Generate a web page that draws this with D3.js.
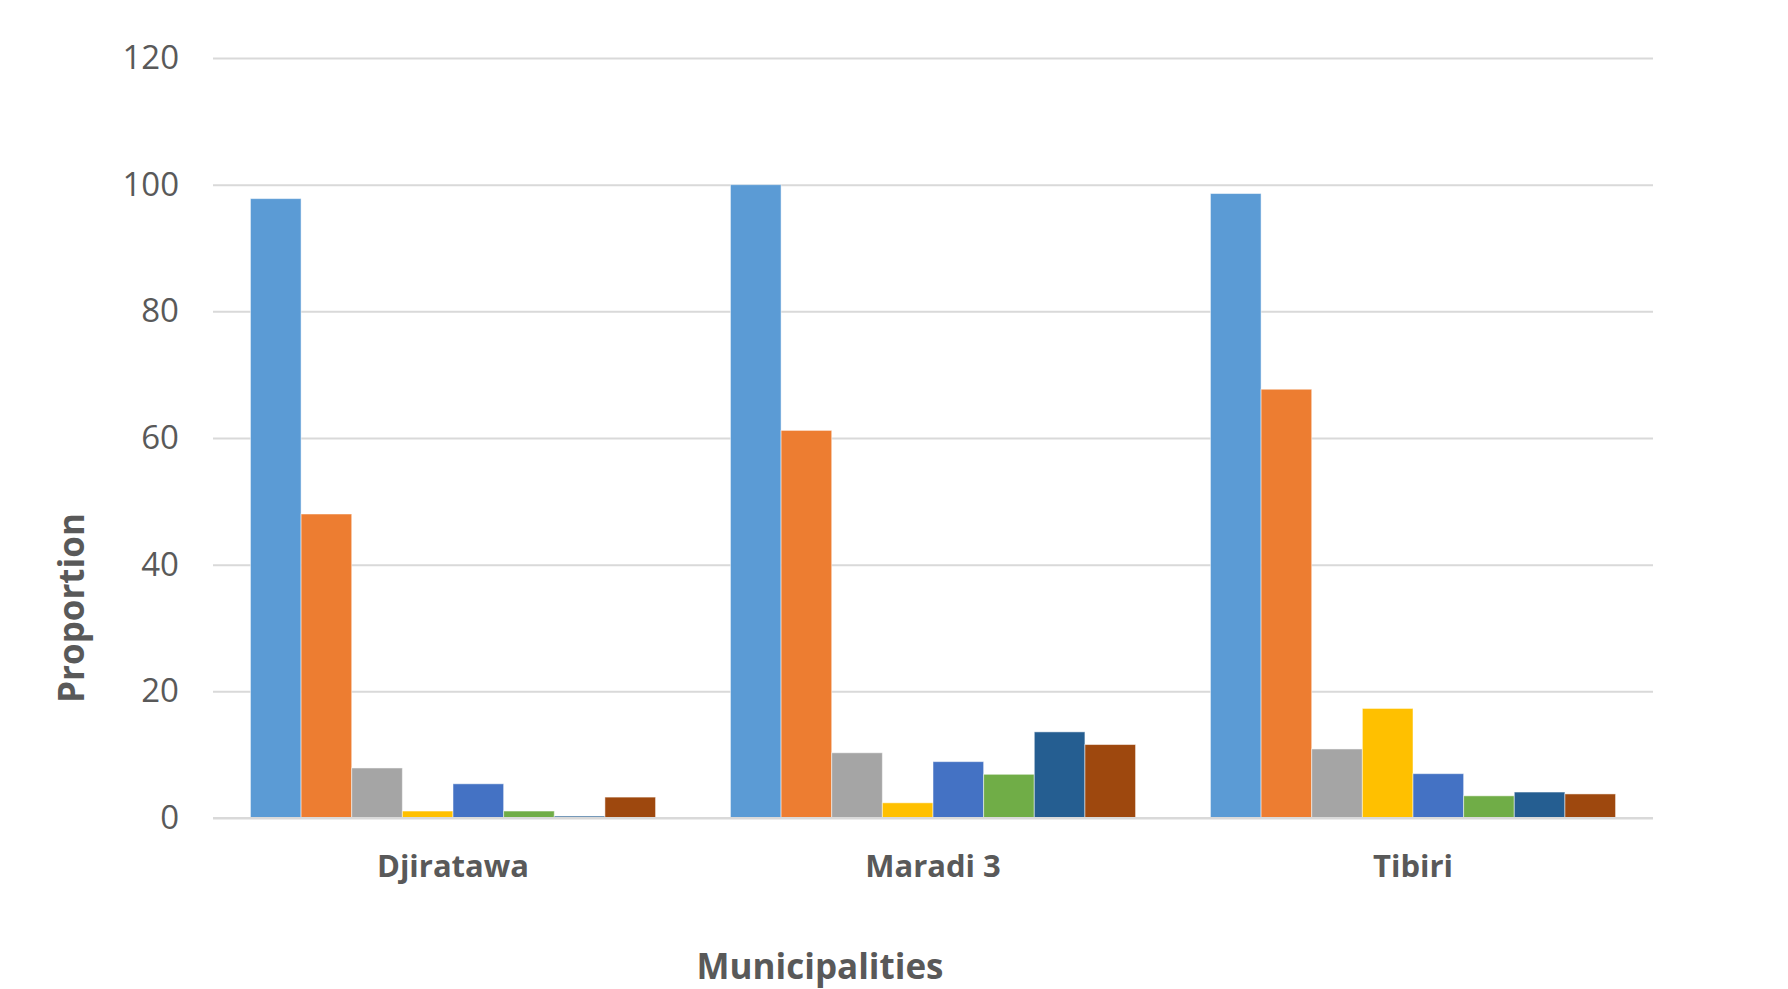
<!DOCTYPE html>
<html>
<head>
<meta charset="utf-8">
<script src="https://cdn.jsdelivr.net/npm/d3@7"></script>
<style>
  html, body { margin: 0; padding: 0; background: #fff; }
  svg { display: block; font-family: "Open Sans", "Liberation Sans", sans-serif; }
</style>
</head>
<body>
<svg id="chart" width="1788" height="989"></svg>
<script>
const categories = ["Djiratawa", "Maradi 3", "Tibiri"];
const seriesNames = ["S1", "S2", "S3", "S4", "S5", "S6", "S7", "S8"];
const seriesColors = ["#5B9BD5", "#ED7D31", "#A5A5A5", "#FFC000", "#4472C4", "#70AD47", "#255E91", "#9E480E"];
// values[seriesIndex][categoryIndex]
const s1 = [97.8, 100, 98.6];
const s2 = [48.0, 61.2, 67.7];
const s3 = [7.9, 10.3, 10.9];
const s4 = [1.1, 2.4, 17.3];
const s5 = [5.4, 8.9, 7.0];
const s6 = [1.1, 6.9, 3.5];
const s7 = [0.3, 13.6, 4.1];
const s8 = [3.3, 11.6, 3.8];
const seriesValues = [s1, s2, s3, s4, s5, s6, s7, s8];
const yTicks = [0, 20, 40, 60, 80, 100, 120];
const yTitle = "Proportion";
const xTitle = "Municipalities";

(function () {
const svg = d3.select("#chart");
const mLeft = 213, mRight = 1653, mTop = 58, mBottom = 818;

const x0 = d3.scaleBand().domain(categories).range([mLeft, mRight])
  .paddingInner(0.156).paddingOuter(0.078);
const x1 = d3.scaleBand().domain(seriesNames).range([0, x0.bandwidth()]).padding(0);
const y = d3.scaleLinear().domain([0, 120]).range([mBottom, mTop]);

// gridlines
const yAxis = d3.axisLeft(y).tickValues(yTicks).tickSize(-(mRight - mLeft)).tickPadding(34);
const gy = svg.append("g").attr("transform", `translate(${mLeft},0)`).call(yAxis);
gy.select(".domain").remove();
gy.selectAll(".tick line").attr("stroke", "#D9D9D9").attr("stroke-width", 2);
gy.selectAll(".tick text").attr("fill", "#595959").attr("font-size", 33)
  .attr("font-family", "'Open Sans', sans-serif");

// bars
const data = [];
categories.forEach((c, ci) => {
  seriesNames.forEach((s, si) => {
    data.push({ cat: c, ser: s, val: seriesValues[si][ci], color: seriesColors[si] });
  });
});
svg.append("g").selectAll("rect").data(data).join("rect")
  .attr("x", d => x0(d.cat) + x1(d.ser))
  .attr("y", d => y(d.val))
  .attr("width", x1.bandwidth())
  .attr("height", d => y(0) - y(d.val))
  .attr("fill", d => d.color)
  .attr("stroke", "#ffffff")
  .attr("stroke-opacity", 0.5)
  .attr("stroke-width", 1);

// baseline
svg.append("line").attr("x1", mLeft).attr("x2", mRight).attr("y1", y(0)).attr("y2", y(0))
  .attr("stroke", "#D9D9D9").attr("stroke-width", 2);

// category axis labels
const xAxis = d3.axisBottom(x0).tickSize(0).tickPadding(0);
const gx = svg.append("g").attr("transform", `translate(0,${mBottom})`).call(xAxis);
gx.select(".domain").remove();
gx.selectAll(".tick text").attr("fill", "#595959").attr("font-size", 31)
  .attr("font-weight", "bold").attr("dy", "1.9em")
  .attr("font-family", "'Open Sans', sans-serif");

// axis titles
svg.append("text").attr("x", 820).attr("y", 979)
  .attr("text-anchor", "middle").attr("fill", "#595959")
  .attr("font-size", 35).attr("font-weight", "bold").text(xTitle);
svg.append("text").attr("transform", `translate(84,608) rotate(-90)`)
  .attr("text-anchor", "middle").attr("fill", "#595959")
  .attr("font-size", 35).attr("font-weight", "bold").text(yTitle);
})();
</script>
</body>
</html>
